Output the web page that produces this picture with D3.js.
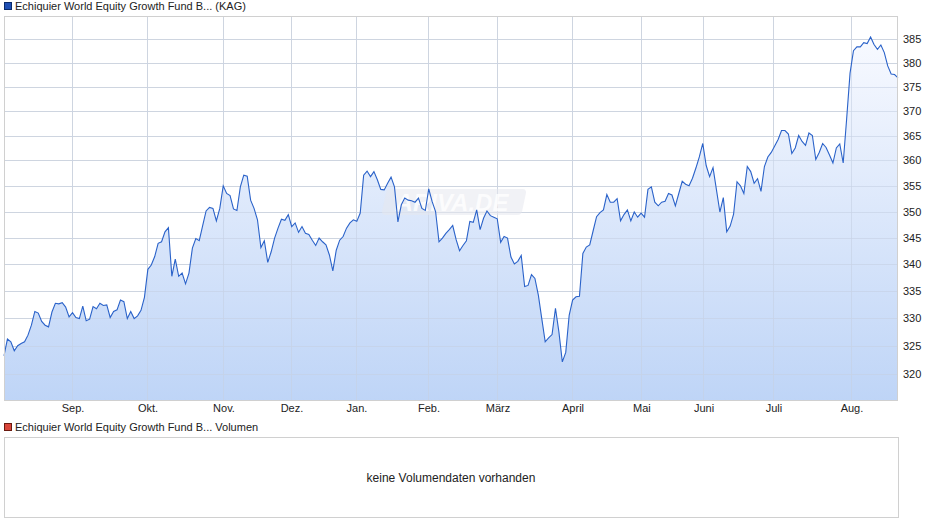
<!DOCTYPE html>
<html><head><meta charset="utf-8">
<script src="https://cdn.jsdelivr.net/npm/d3@7"></script>
<style>body{margin:0;background:#fff;font-family:"Liberation Sans",Arial,sans-serif}</style>
</head><body><svg id="c" width="940" height="526"></svg>
<script>
const title = "Echiquier World Equity Growth Fund B... (KAG)";
const volTitle = "Echiquier World Equity Growth Fund B... Volumen";
const noVol = "keine Volumendaten vorhanden";
const yTicks = [320,325,330,335,340,345,350,355,360,365,370,375,380,385];
const monthLabels = ["Sep.","Okt.","Nov.","Dez.","Jan.","Feb.","März","April","Mai","Juni","Juli","Aug."];
// month starts as fraction of the shown time span
const monthFrac = [0.0761,0.1600,0.2450,0.3210,0.3937,0.4743,0.5515,0.6354,0.7125,0.7819,0.8602,0.9474];
const values = [
323.2,326.2,325.7,324.1,325,325.4,325.7,326.9,328.7,331.2,330.9,329.4,328.7,328.4,331.1,332.7,332.6,332.8,332,330.2,
331,330.1,329.9,332.2,329.5,329.8,332.1,331.7,332.7,332.3,332.4,330.1,331.2,331.5,333.3,333,329.9,331.2,329.9,330.4,
331.4,333.8,339.0,339.8,341.4,343.9,344.2,346.1,346.9,337.7,340.9,337.7,338.3,336.3,338.3,343,344.8,344.4,347.3,350.1,
350.8,350.6,348.2,350.6,355,353.5,353.1,
350.5,350.2,354.8,357.1,356.9,352.2,350.6,348.4,343.1,344.4,340.3,342.3,344.9,346.8,348.5,348.3,349.4,347.1,347.8,346,
347.1,345.8,345.6,344.5,343.5,344.9,344.2,343.6,341.7,338.7,342.6,344.5,345.2,346.8,347.8,348.4,348.1,349.7,357.1,357.9,
356.8,357.8,356.2,354.3,354.2,355.5,356.7,354.8,348,351.3,352.6,352.2,352.1,351.8,352.6,350.6,350.2,354.4,351.9,350,
344.2,344.9,345.8,346.5,
347.3,344.6,342.5,343.5,344.4,348.1,347.9,350.3,346.5,348.7,350.1,349.2,348.9,348.6,344.1,345.2,344.9,341.3,340,340.5,
341.6,335.8,336,338,337.3,334.2,329.9,325.7,326.4,327,331.8,327.5,322.1,323.8,330.5,333.3,333.9,334,342,343.2,
343.6,346.3,349,349.8,350.3,353.3,351.8,351.8,352.5,348.2,349.4,350.3,348.2,349.9,348.9,349.7,348.9,354.3,354.8,351.8,
351.1,351.8,352,353.5,
353.2,351.1,353.5,355.9,355.3,355,356.5,358.5,360.7,363.4,359,356.8,358.6,354.2,349.9,352.7,346.1,347.2,349.5,355.8,
355,353.5,358.8,357.8,355.5,356.4,353.9,358.8,360.7,361.6,362.9,364.2,366,366,365.3,361.4,362.5,365,363.8,363,
365.5,365,360.2,361.6,363.4,362.6,361.1,359.5,362.5,363.3,359.5,368.3,
377.8,382.5,383.3,383.3,384.2,384,385.4,383.8,382.8,383.7,382.1,379.3,377.6,377.5,376.8];

const svg = d3.select("#c");
const L=4, R=898, T=16, B=400;
const x = d3.scaleLinear().domain([0, values.length-1]).range([L, R]);
const xf = d3.scaleLinear().domain([0, 1]).range([L, R]);
const y = d3.scaleLog().domain([315.4, 389.9]).range([B, T]);

svg.append("rect").attr("x",4.5).attr("y",2.5).attr("width",7).attr("height",7).attr("fill","#1f4fb4").attr("stroke","#0a2a6a");
svg.append("text").attr("x",15).attr("y",10).attr("font-size",11).attr("fill","#222").text(title);

const defs = svg.append("defs");
const g = defs.append("linearGradient").attr("id","gr").attr("x1",0).attr("y1",0).attr("x2",0).attr("y2",1);
g.append("stop").attr("offset","0%").attr("stop-color","#f7f9ff");
g.append("stop").attr("offset","100%").attr("stop-color","#b9d1f6");

function grid(stroke, op){
  svg.append("g").selectAll("line").data(yTicks).join("line")
    .attr("x1",L).attr("x2",R).attr("y1",d=>Math.round(y(d))+0.5).attr("y2",d=>Math.round(y(d))+0.5)
    .attr("stroke",stroke).attr("opacity",op);
  svg.append("g").selectAll("line").data(monthFrac).join("line")
    .attr("y1",T).attr("y2",B).attr("x1",d=>Math.round(xf(d))+0.5).attr("x2",d=>Math.round(xf(d))+0.5)
    .attr("stroke",stroke).attr("opacity",op);
}
grid("#d9d9d9",1);

const area = d3.area().x((d,i)=>x(i)).y0(B).y1(d=>y(d));
svg.append("path").datum(values).attr("d",area).attr("fill","url(#gr)").attr("opacity",0.92);
grid("#c8d3e6",0.6);

svg.append("rect").attr("x",385).attr("y",189).attr("width",140).attr("height",26).attr("rx",4)
  .attr("fill","#e6e8ee").attr("opacity",0.55).attr("transform","skewX(-12) translate(42,0)");
svg.append("text").attr("x",452).attr("y",211).attr("text-anchor","middle").attr("font-size",24)
  .attr("font-weight","bold").attr("font-style","italic").attr("fill","#ffffff").attr("opacity",0.8).text("ARIVA.DE");

const line = d3.line().x((d,i)=>x(i)).y(d=>y(d));
svg.append("path").datum(values).attr("d",line).attr("fill","none").attr("stroke","#2a62c9").attr("stroke-width",1.1);

svg.append("rect").attr("x",L+0.5).attr("y",T+0.5).attr("width",R-L-1).attr("height",B-T).attr("fill","none").attr("stroke","#d0d0d0");

svg.append("g").selectAll("text").data(yTicks).join("text")
  .attr("x",903).attr("y",d=>y(d)+4).attr("font-size",11).attr("fill","#222").text(d=>d);
svg.append("g").selectAll("text").data(monthLabels).join("text")
  .attr("x",(d,i)=>xf(monthFrac[i])+1).attr("y",412).attr("text-anchor","middle").attr("font-size",11).attr("fill","#222").text(d=>d);

svg.append("rect").attr("x",4.5).attr("y",423.5).attr("width",7).attr("height",7).attr("fill","#d9453a").attr("stroke","#6a1a10");
svg.append("text").attr("x",15).attr("y",431).attr("font-size",11).attr("fill","#222").text(volTitle);
svg.append("rect").attr("x",4.5).attr("y",437.5).attr("width",894).attr("height",80).attr("fill","#fff").attr("stroke","#d0d0d0");
svg.append("text").attr("x",451).attr("y",482).attr("text-anchor","middle").attr("font-size",12).attr("fill","#222").text(noVol);
</script></body></html>
